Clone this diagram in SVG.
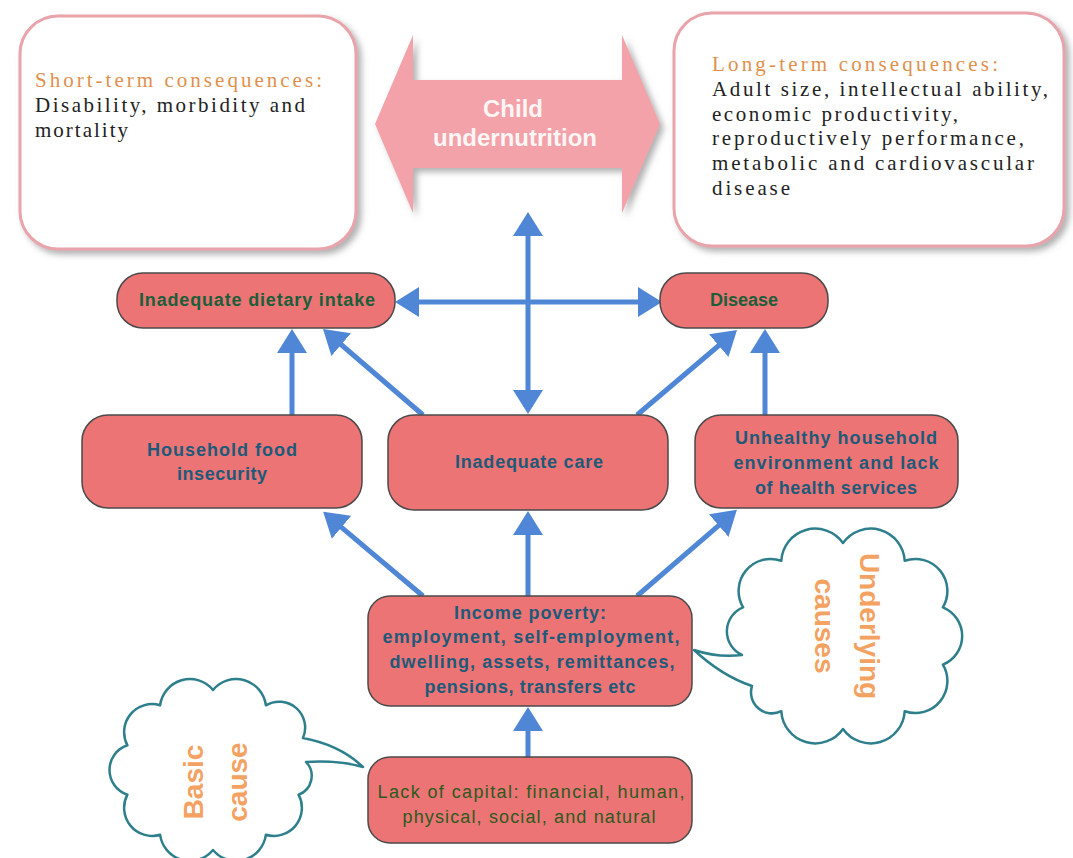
<svg xmlns="http://www.w3.org/2000/svg" width="1073" height="858" viewBox="0 0 1073 858">
<defs>
<filter id="shadow" x="-10%" y="-10%" width="125%" height="130%">
<feDropShadow dx="4" dy="4" stdDeviation="3" flood-color="#6f6f6f" flood-opacity="0.55"/>
</filter>
<marker id="ah" viewBox="0 0 24 30" markerWidth="24" markerHeight="30" refX="14" refY="15" orient="auto" markerUnits="userSpaceOnUse">
<path d="M0,0 L24,15 L0,30 Z" fill="#4f87d6"/>
</marker>
<style>
.cons{fill:#ffffff;stroke:#e9a3ab;stroke-width:3}
.node{fill:#ec7474;stroke:#4a4a4a;stroke-width:1.5}
.cloud{fill:#ffffff;stroke:#2e7f8c;stroke-width:2.5;stroke-linejoin:round}
.conn{fill:none;stroke:#4f87d6;stroke-width:5;marker-end:url(#ah)}
.serif{font-family:"Liberation Serif","Times New Roman",serif;font-size:21px}
.head{fill:#e0904c}
.body{fill:#222222}
.lbl{font-family:"Liberation Sans",Arial,sans-serif;font-size:18px;font-weight:bold;text-anchor:middle}
.green{fill:#1b5e3a}
.teal{fill:#1d5a7a}
.lack{font-family:"Liberation Sans",Arial,sans-serif;font-size:18px;text-anchor:middle;fill:#2d5a1e}
.cloudtxt{font-family:"Liberation Sans",Arial,sans-serif;font-size:28px;font-weight:bold;fill:#f3a262;text-anchor:middle}
.child{font-family:"Liberation Sans",Arial,sans-serif;font-size:24px;font-weight:bold;fill:#fff6f6;text-anchor:middle}
</style>
</defs>
<rect width="1073" height="858" fill="#ffffff"/>

<g id="short-term">
<rect class="cons" x="20" y="16" width="336" height="233" rx="38" filter="url(#shadow)"/>
<text class="serif head" x="35" y="87" textLength="287" lengthAdjust="spacing">Short-term consequences:</text>
<text class="serif body" x="35" y="112" textLength="270" lengthAdjust="spacing">Disability, morbidity and</text>
<text class="serif body" x="35" y="137" textLength="93" lengthAdjust="spacing">mortality</text>
</g>

<g id="long-term">
<rect class="cons" x="674" y="13" width="390" height="233" rx="38" filter="url(#shadow)"/>
<text class="serif head" x="712" y="71" textLength="286" lengthAdjust="spacing">Long-term consequences:</text>
<text class="serif body" x="712" y="96" textLength="336" lengthAdjust="spacing">Adult size, intellectual ability,</text>
<text class="serif body" x="712" y="121" textLength="246" lengthAdjust="spacing">economic productivity,</text>
<text class="serif body" x="712" y="145" textLength="312" lengthAdjust="spacing">reproductively performance,</text>
<text class="serif body" x="712" y="170" textLength="322" lengthAdjust="spacing">metabolic and cardiovascular</text>
<text class="serif body" x="712" y="195" textLength="78" lengthAdjust="spacing">disease</text>
</g>

<g id="child-undernutrition">
<polygon points="375,124 413,35 413,80 622,80 622,35 660,124 622,213 622,168 413,168 413,213" fill="#f2a2a8" filter="url(#shadow)"/>
<text class="child" x="513" y="117">Child</text>
<text class="child" x="515" y="146">undernutrition</text>
</g>

<g id="connectors">
<path class="conn" d="M528,302 L528,222"/>
<path class="conn" d="M528,302 L528,404"/>
<path class="conn" d="M528,302 L405,302"/>
<path class="conn" d="M528,302 L652,302"/>
<path class="conn" d="M292,415 L292,339"/>
<path class="conn" d="M423,415 L330.6,335.5"/>
<path class="conn" d="M637,415 L729.4,336.5"/>
<path class="conn" d="M765,415 L765,339"/>
<path class="conn" d="M423,596 L330.8,518.3"/>
<path class="conn" d="M528,596 L528,521"/>
<path class="conn" d="M637,596 L729.3,516.4"/>
<path class="conn" d="M528,757 L528,717"/>
</g>

<g id="inadequate-dietary-intake">
<rect class="node" x="117" y="273" width="278" height="55" rx="26"/>
<text class="lbl green" x="257" y="306" textLength="236" lengthAdjust="spacing">Inadequate dietary intake</text>
</g>

<g id="disease">
<rect class="node" x="660" y="273" width="168" height="55" rx="26"/>
<text class="lbl green" x="744" y="306" textLength="68" lengthAdjust="spacing">Disease</text>
</g>

<g id="household-food-insecurity">
<rect class="node" x="82" y="415" width="280" height="93" rx="26"/>
<text class="lbl teal" x="222" y="456" textLength="150" lengthAdjust="spacing">Household food</text>
<text class="lbl teal" x="222" y="480" textLength="90" lengthAdjust="spacing">insecurity</text>
</g>

<g id="inadequate-care">
<rect class="node" x="388" y="415" width="280" height="95" rx="26"/>
<text class="lbl teal" x="529" y="468" textLength="148" lengthAdjust="spacing">Inadequate care</text>
</g>

<g id="unhealthy-environment">
<rect class="node" x="695" y="415" width="263" height="93" rx="26"/>
<text class="lbl teal" x="836" y="444" textLength="202" lengthAdjust="spacing">Unhealthy household</text>
<text class="lbl teal" x="836" y="469" textLength="205" lengthAdjust="spacing">environment and lack</text>
<text class="lbl teal" x="836" y="494" textLength="162" lengthAdjust="spacing">of health services</text>
</g>

<g id="income-poverty">
<rect class="node" x="368" y="596" width="324" height="110" rx="22"/>
<text class="lbl teal" x="530" y="619" textLength="152" lengthAdjust="spacing">Income poverty:</text>
<text class="lbl teal" x="531" y="643" textLength="297" lengthAdjust="spacing">employment, self-employment,</text>
<text class="lbl teal" x="532" y="668" textLength="285" lengthAdjust="spacing">dwelling, assets, remittances,</text>
<text class="lbl teal" x="530" y="693" textLength="211" lengthAdjust="spacing">pensions, transfers etc</text>
</g>

<g id="lack-of-capital">
<rect class="node" x="368" y="757" width="324" height="86" rx="22"/>
<text class="lack" x="531" y="798" textLength="307" lengthAdjust="spacing">Lack of capital: financial, human,</text>
<text class="lack" x="529" y="823" textLength="253" lengthAdjust="spacing">physical, social, and natural</text>
</g>

<g id="underlying-causes">
<path class="cloud" d="M843,543 A34,34 0 0 1 904.7,560.8 A32,32 0 0 1 942.9,607.3 A31,31 0 0 1 942.9,664.7 A32,32 0 0 1 904.7,711.2 A34,34 0 0 1 843,729 A34,34 0 0 1 781.3,711.2 A21,21 0 0 1 752,686 Q722,676 694,650 Q718,658 742,655 A26,26 0 0 1 743.1,607.3 A32,32 0 0 1 781.3,560.8 A34,34 0 0 1 843,543 Z"/>
<g transform="translate(846,626) rotate(90)">
<text class="cloudtxt" x="0" y="-14">Underlying</text>
<text class="cloudtxt" x="0" y="31">causes</text>
</g>
</g>

<g id="basic-cause">
<path class="cloud" d="M213,690 A30,30 0 0 1 265.9,705.3 A26,26 0 0 1 303,738 Q340,745 363,767 Q338,760 306,762 A20,20 0 0 1 298.6,794.7 A28,28 0 0 1 265.9,834.7 A30,30 0 0 1 213,850 A30,30 0 0 1 160.1,834.7 A28,28 0 0 1 127.4,794.7 A26,26 0 0 1 127.4,745.3 A28,28 0 0 1 160.1,705.3 A30,30 0 0 1 213,690 Z"/>
<g transform="translate(214,782) rotate(-90)">
<text class="cloudtxt" x="0" y="-11">Basic</text>
<text class="cloudtxt" x="0" y="33">cause</text>
</g>
</g>
</svg>
